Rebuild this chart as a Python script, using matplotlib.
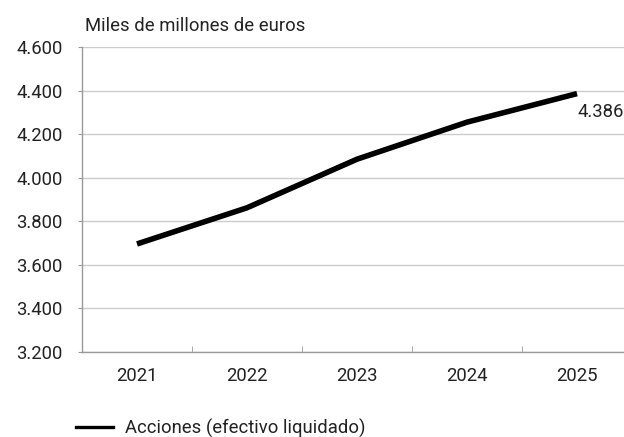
import matplotlib
matplotlib.use("Agg")
import matplotlib.pyplot as plt
from matplotlib.lines import Line2D

plt.rcParams['font.family'] = ['Roboto', 'DejaVu Sans']

years = ["2021", "2022", "2023", "2024", "2025"]
values = [3696, 3862, 4085, 4255, 4386]
yticks = [3200, 3400, 3600, 3800, 4000, 4200, 4400, 4600]
ytick_labels = ["3.200", "3.400", "3.600", "3.800", "4.000", "4.200", "4.400", "4.600"]
series_name = "Acciones (efectivo liquidado)"
unit_label = "Miles de millones de euros"
end_label = "4.386"

FS = 13.3
W, H = 624, 437
fig = plt.figure(figsize=(W / 100, H / 100), dpi=100)
ax = fig.add_axes([82 / W, 1 - 352 / H, 1 - 82 / W, (352 - 47) / H])

x = list(range(len(years)))
ax.plot(x, values, color='black', lw=4.0, solid_capstyle='butt', zorder=3)

ax.set_ylim(3200, 4600)
ax.set_xlim(-0.5, -0.5 + 542 / 110)
ax.set_yticks(yticks)
ax.set_yticklabels(ytick_labels, fontsize=FS, color='#222222')
ax.set_xticks(x)
ax.set_xticklabels(years, fontsize=FS, color='#222222')
ax.set_xticks([i + 0.5 for i in range(len(years) - 1)], minor=True)

ax.grid(axis='y', color='#cccccc', lw=1.0, zorder=0)
for s in ['top', 'right']:
    ax.spines[s].set_visible(False)
for s in ['left', 'bottom']:
    ax.spines[s].set_color('#999999')
    ax.spines[s].set_linewidth(1.0)
ax.tick_params(axis='y', which='major', length=2.9, color='#999999', pad=10.8)
ax.tick_params(axis='x', which='major', length=0, pad=11)
ax.tick_params(axis='x', which='minor', length=4, direction='in', color='#999999')

ax.annotate(end_label, xy=(x[-1], values[-1]), xytext=(0.5, -13),
            textcoords='offset points', ha='left', va='center',
            fontsize=FS, color='#222222')

fig.text(85 / W, 1 - 26 / H, unit_label, fontsize=FS, color='#222222',
         ha='left', va='center')

handle = Line2D([0], [0], color='black', lw=2.4)
fig.legend([handle], [series_name], loc='center left',
           bbox_to_anchor=(76 / W, 1 - 428 / H), frameon=False,
           fontsize=FS, handlelength=2.0, handletextpad=0.65,
           borderpad=0, borderaxespad=0, labelcolor='#222222')

fig.savefig("out.png", dpi=100)
